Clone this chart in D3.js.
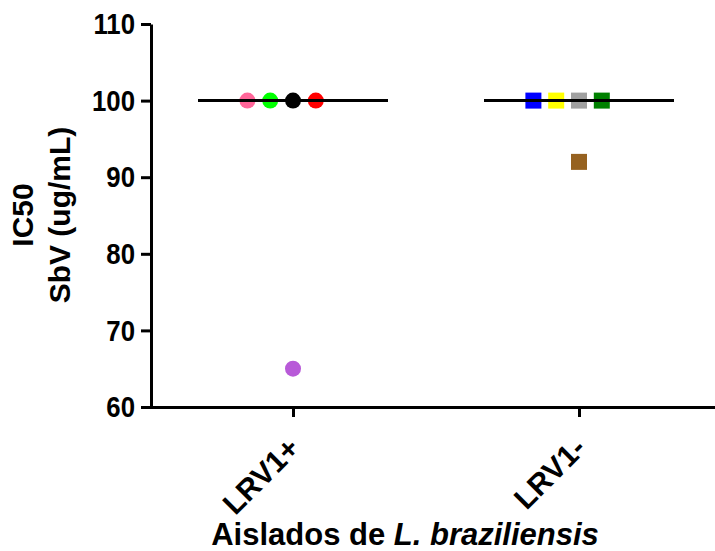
<!DOCTYPE html>
<html>
<head>
<meta charset="utf-8">
<script src="https://cdn.jsdelivr.net/npm/d3@7"></script>
<style>
  body { margin: 0; background: #fff; }
  text { font-family: "Liberation Sans", Arial, sans-serif; font-weight: bold; }
</style>
</head>
<body>
<script>
var groups = ["LRV1+", "LRV1-"];
var lrvPosValues = [100, 100, 100, 100, 65];
var lrvPosColors = ["#ff6699", "#00ff00", "#000000", "#ff0000", "#b85ad8"];
var lrvPosSlots  = [-2, -1, 0, 1, 0];
var lrvNegValues = [100, 100, 100, 100, 92];
var lrvNegColors = ["#0000ff", "#ffff00", "#a0a0a0", "#008000", "#966220"];
var lrvNegSlots  = [-2, -1, 0, 1, 0];
var medians = [100, 100];
var yTicks = [60, 70, 80, 90, 100, 110];

var width = 715, height = 551;
var svg = d3.select("body").append("svg")
    .attr("width", width)
    .attr("height", height);

var y = d3.scaleLinear().domain([60, 110]).range([407, 24]);
var x = d3.scalePoint().domain(groups).range([293, 579]);
var slotW = 22.8;

// y axis (tick labels a bit condensed like the original)
var yAxis = svg.append("g")
    .attr("transform", "translate(151,0)")
    .call(d3.axisLeft(y).tickValues(yTicks).tickSize(10).tickSizeOuter(0));
yAxis.select(".domain").attr("stroke-width", 3);
yAxis.selectAll(".tick line").attr("stroke-width", 3);
yAxis.selectAll(".tick text")
    .attr("font-size", 30)
    .attr("fill", "#000")
    .attr("x", -16 / 0.86)
    .attr("transform", "scale(0.86,1)");

// x axis
svg.append("line")
    .attr("x1", 150).attr("x2", 715)
    .attr("y1", 407.5).attr("y2", 407.5)
    .attr("stroke", "#000").attr("stroke-width", 3);
var xAxis = svg.append("g")
    .attr("transform", "translate(0,407)")
    .call(d3.axisBottom(x).tickSize(10).tickSizeOuter(0));
xAxis.select(".domain").remove();
xAxis.selectAll(".tick line").attr("stroke-width", 3);
xAxis.selectAll(".tick text")
    .attr("font-size", 30)
    .attr("fill", "#000")
    .attr("text-anchor", "end")
    .attr("dy", null)
    .attr("y", 0)
    .attr("transform", "translate(8,43) rotate(-45)");

// points
var posData = lrvPosValues.map(function(v, i) {
  return { v: v, c: lrvPosColors[i], s: lrvPosSlots[i] };
});
var negData = lrvNegValues.map(function(v, i) {
  return { v: v, c: lrvNegColors[i], s: lrvNegSlots[i] };
});

svg.selectAll("circle.pt")
    .data(posData)
    .enter()
    .append("circle")
    .attr("class", "pt")
    .attr("cx", function(d) { return x("LRV1+") + d.s * slotW; })
    .attr("cy", function(d) { return y(d.v); })
    .attr("r", 8)
    .attr("fill", function(d) { return d.c; });

svg.selectAll("rect.pt")
    .data(negData)
    .enter()
    .append("rect")
    .attr("class", "pt")
    .attr("x", function(d) { return x("LRV1-") + d.s * slotW - 8; })
    .attr("y", function(d) { return y(d.v) - 8; })
    .attr("width", 16)
    .attr("height", 16)
    .attr("fill", function(d) { return d.c; });

// median lines
svg.selectAll("line.med")
    .data(medians)
    .enter()
    .append("line")
    .attr("class", "med")
    .attr("x1", function(d, i) { return x(groups[i]) - 95; })
    .attr("x2", function(d, i) { return x(groups[i]) + 95; })
    .attr("y1", function(d) { return y(d); })
    .attr("y2", function(d) { return y(d); })
    .attr("stroke", "#000")
    .attr("stroke-width", 3);

// titles
var yTitle = svg.append("text")
    .attr("transform", "translate(0,215) rotate(-90)")
    .attr("text-anchor", "middle")
    .attr("font-size", 30);
yTitle.append("tspan").attr("x", 0).attr("y", 33).text("IC50");
yTitle.append("tspan").attr("x", 0).attr("y", 70).text("SbV (ug/mL)");

var xTitle = svg.append("text")
    .attr("x", 405)
    .attr("y", 545)
    .attr("text-anchor", "middle")
    .attr("font-size", 31);
xTitle.append("tspan").text("Aislados de ");
xTitle.append("tspan").attr("font-style", "italic").text("L. braziliensis");
</script>
</body>
</html>
